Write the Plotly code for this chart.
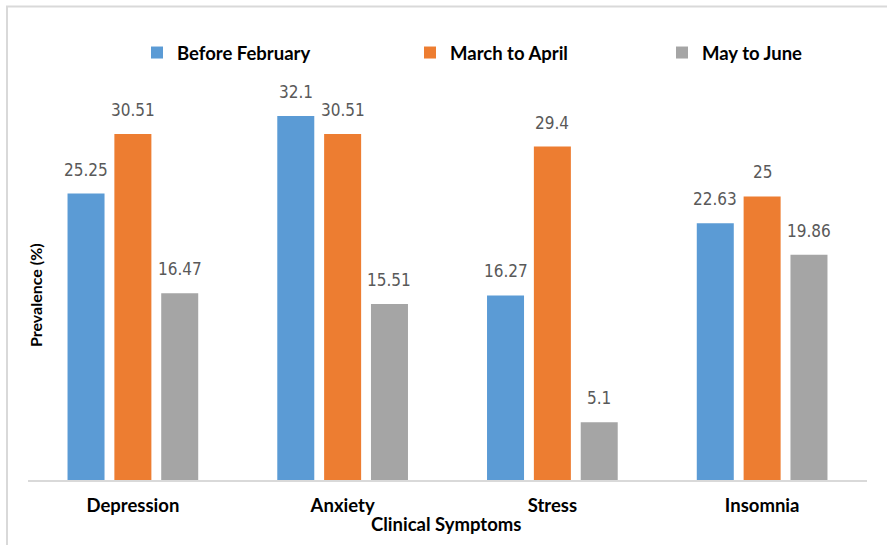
import plotly.graph_objects as go

categories = ["Depression", "Anxiety", "Stress", "Insomnia"]
series_names = ["Before February", "March to April", "May to June"]
before_feb = [25.25, 32.1, 16.27, 22.63]
march_april = [30.51, 30.51, 29.4, 25]
may_june = [16.47, 15.51, 5.1, 19.86]
colors = ["#5B9BD5", "#ED7D31", "#A5A5A5"]

label_font = dict(family="DejaVu Sans Condensed, sans-serif", size=17, color="#595959")
bold_font = "Lato, Open Sans, sans-serif"
BOLD = dict(family=bold_font, size=18.5, color="#000000", weight="bold")

W, H = 887, 545
L, R, T, B = 28, 20, 100, 65
pw, ph = W - L - R, H - T - B
BARGAP, GROUPGAP = 0.33, 0.21
slot = (pw / len(categories)) * (1 - BARGAP) / len(series_names)


def px_x(p):
    return (p - L) / pw


def px_y(p):
    return (H - B - p) / ph


legend_names = ["legend", "legend2", "legend3"]
legend_px = [137, 410, 662]

fig = go.Figure()
annotations = []
all_series = [before_feb, march_april, may_june]
for i, (name, vals, col, lg) in enumerate(zip(series_names, all_series, colors, legend_names)):
    fig.add_trace(go.Bar(
        x=categories, y=vals, name=name, marker=dict(color=col, line=dict(width=0)),
        legend=lg, hoverinfo="x+y+name",
    ))
    for c, v in zip(categories, vals):
        annotations.append(dict(
            x=c, y=v, xref="x", yref="y", text=f"{v:g}", showarrow=False,
            xanchor="center", yanchor="bottom", xshift=(i - 1) * slot, yshift=12,
            font=label_font,
        ))

annotations.append(dict(text="Prevalence (%)", textangle=-90, xref="paper", yref="paper",
                        x=px_x(35), y=px_y(295), xanchor="center", yanchor="middle", showarrow=False,
                        font=dict(family=bold_font, size=16, color="#000000", weight="bold")))
annotations.append(dict(text="Clinical Symptoms", xref="paper", yref="paper",
                        x=px_x(446), y=px_y(524), xanchor="center", yanchor="middle", showarrow=False,
                        font=BOLD))

legend_common = dict(orientation="h", xref="container", yref="container",
                     xanchor="left", yanchor="middle", itemwidth=30,
                     bgcolor="rgba(0,0,0,0)", font=BOLD)

layout_legends = {}
for lg, xp in zip(legend_names, legend_px):
    layout_legends[lg] = dict(legend_common, x=xp / W, y=1 - 53 / H)

fig.update_layout(
    width=W, height=H,
    margin=dict(l=L, r=R, t=T, b=B, autoexpand=False),
    paper_bgcolor="white", plot_bgcolor="white",
    barmode="group", bargap=BARGAP, bargroupgap=GROUPGAP,
    showlegend=True,
    xaxis=dict(showline=True, linecolor="#D9D9D9", linewidth=2, ticks="", automargin=False,
               tickfont=BOLD, ticklabelstandoff=8),
    yaxis=dict(range=[0, 33.5], showgrid=False, showticklabels=False, zeroline=False,
               showline=False, ticks="", automargin=False),
    annotations=annotations,
    shapes=[dict(type="rect", xref="paper", yref="paper",
                 x0=px_x(7), x1=px_x(892), y0=px_y(552), y1=px_y(6.5),
                 line=dict(color="#D9D9D9", width=2), layer="below")],
    **layout_legends,
)

fig.write_html("out.html", config={"displayModeBar": False},
               post_script="document.body.style.margin='0';")
